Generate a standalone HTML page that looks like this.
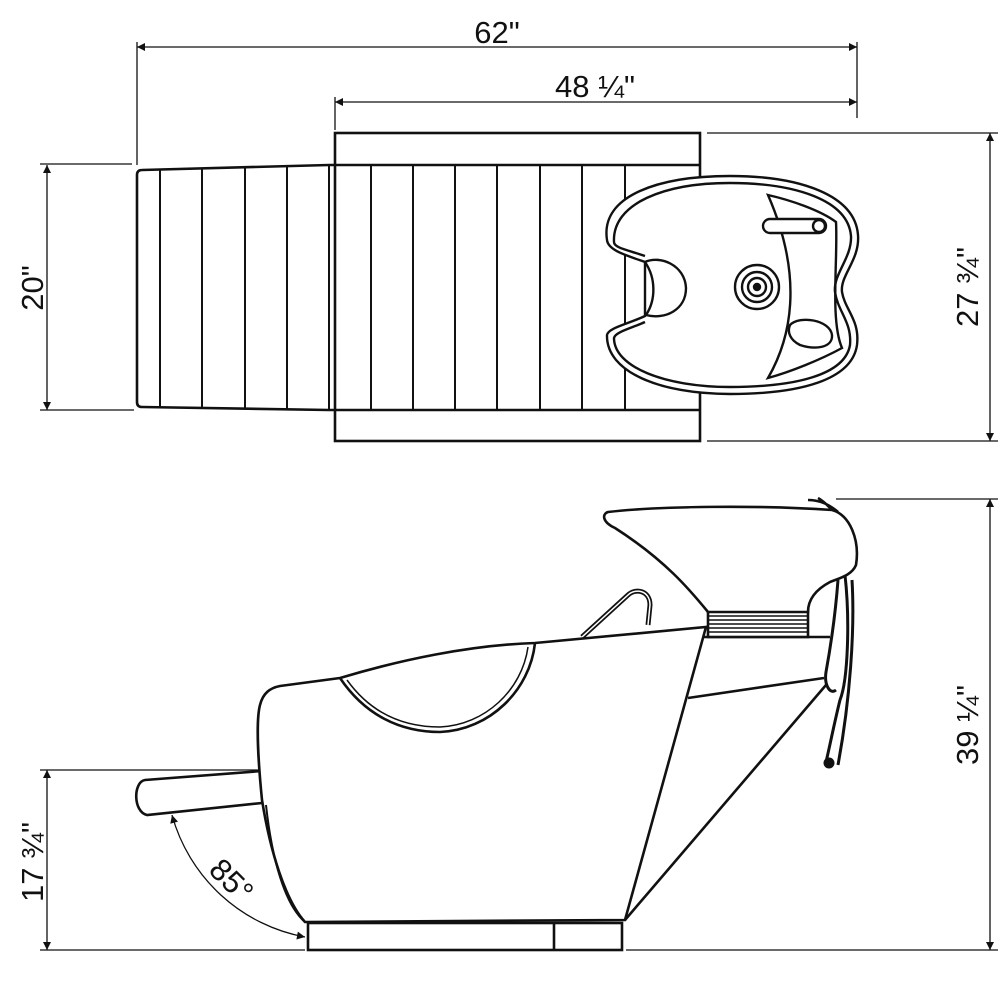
<!DOCTYPE html>
<html><head><meta charset="utf-8"><style>
html,body{margin:0;padding:0;background:#fff;}
svg{display:block;}
text{font-family:"Liberation Sans",sans-serif;fill:#111;}
</style></head><body>
<svg width="1000" height="1000" viewBox="0 0 1000 1000" xmlns="http://www.w3.org/2000/svg">
<defs>
<marker id="ar" viewBox="0 0 10 10" refX="10" refY="5" markerWidth="14" markerHeight="8" markerUnits="userSpaceOnUse" orient="auto-start-reverse">
<path d="M0,0 L10,5 L0,10 z" fill="#111"/></marker>
</defs>
<g stroke="#111" fill="none">
<g stroke-width="1.3">
<line x1="137" y1="47" x2="857" y2="47" marker-start="url(#ar)" marker-end="url(#ar)"/>
<line x1="137" y1="42" x2="137" y2="165"/>
<line x1="857" y1="42" x2="857" y2="118"/>
<line x1="335" y1="102" x2="857" y2="102" marker-start="url(#ar)" marker-end="url(#ar)"/>
<line x1="335" y1="97" x2="335" y2="130"/>
<line x1="47" y1="165" x2="47" y2="410" marker-start="url(#ar)" marker-end="url(#ar)"/>
<line x1="40" y1="164" x2="132" y2="164"/>
<line x1="40" y1="410" x2="134" y2="410"/>
<line x1="990" y1="133" x2="990" y2="441" marker-start="url(#ar)" marker-end="url(#ar)"/>
<line x1="707" y1="133" x2="998" y2="133"/>
<line x1="707" y1="441" x2="998" y2="441"/>
<line x1="990" y1="499" x2="990" y2="950" marker-start="url(#ar)" marker-end="url(#ar)"/>
<line x1="836" y1="499" x2="998" y2="499"/>
<line x1="47" y1="770" x2="47" y2="950" marker-start="url(#ar)" marker-end="url(#ar)"/>
<line x1="40" y1="770" x2="258" y2="770"/>
<line x1="40" y1="950" x2="305" y2="950"/>
<line x1="626" y1="950" x2="998" y2="950"/>
<path d="M172,815 A170,170 0 0 0 305,937" marker-start="url(#ar)" marker-end="url(#ar)"/>
</g>
<g stroke-width="2.6">
<rect x="335" y="133" width="365" height="308"/>
<line x1="329" y1="165" x2="700" y2="165"/>
<line x1="329" y1="410" x2="700" y2="410"/>
<path d="M329,165 L142,170 Q137,170 137,175 L137,402 Q137,407 142,407 L329,410"/>
<g stroke-width="2">
<line x1="160" y1="170" x2="160" y2="407"/>
<line x1="202" y1="169" x2="202" y2="408"/>
<line x1="245" y1="168" x2="245" y2="408"/>
<line x1="287" y1="166" x2="287" y2="409"/>
<line x1="329" y1="165" x2="329" y2="410"/>
<line x1="371" y1="165" x2="371" y2="410"/>
<line x1="413" y1="165" x2="413" y2="410"/>
<line x1="455" y1="165" x2="455" y2="410"/>
<line x1="497" y1="165" x2="497" y2="410"/>
<line x1="540" y1="165" x2="540" y2="410"/>
<line x1="582" y1="165" x2="582" y2="410"/>
<line x1="625" y1="165" x2="625" y2="410"/>
</g>
</g>
<g stroke-width="2.4" fill="#fff">
<path d="M607,240 C600,195 660,176 730,176 C800,176 855,195 858,235 C860,260 840,275 842,292 C845,310 860,320 857,345 C852,380 800,394 730,394 C660,394 606,372 607,335 C608,328 628,324 645,316 L645,262 C625,255 608,250 607,240 Z"/>
<path d="M614,242 C612,203 665,183 730,183 C795,183 848,200 851,236 C852,258 833,274 835,292 C838,312 852,322 850,345 C845,375 795,387 730,387 C665,387 614,367 614,338 C615,332 632,328 645,322 M645,256 C628,250 614,248 614,242" fill="none"/>
<path d="M645,262 C660,255 685,265 686,288 C686,310 665,320 646,315 C656,300 656,278 645,262 Z"/>
<path d="M768,195 C790,200 820,210 836,222 C838,260 830,320 842,348 C820,360 790,372 768,378 C790,340 805,280 768,195 Z" fill="none"/>
<rect x="763" y="219" width="63" height="14" rx="7"/>
<circle cx="819" cy="226" r="6"/>
<path d="M790,325 C800,315 830,320 832,335 C833,348 815,350 800,345 C790,340 787,332 790,325 Z"/>
<circle cx="757" cy="287" r="22"/>
<circle cx="757" cy="287" r="15"/>
<circle cx="757" cy="287" r="9"/>
<circle cx="757" cy="287" r="3" fill="#111"/>
</g>
<g stroke-width="2.6" fill="#fff">
<path d="M700,637 L830,637" fill="none"/>
<path d="M688,698 L824,678" fill="none"/>
<path d="M826,685 L625,920" fill="none"/>
<rect x="708" y="611" width="100" height="26" fill="#fff"/>
<g stroke-width="1.5"><line x1="708" y1="616" x2="808" y2="616"/><line x1="708" y1="620" x2="808" y2="620"/><line x1="708" y1="624" x2="808" y2="624"/><line x1="708" y1="628" x2="808" y2="628"/><line x1="708" y1="632" x2="808" y2="632"/></g>
<path d="M608,512 C660,506 760,505 832,510 C850,515 860,540 856,565 C852,575 840,578 830,582 C815,590 808,600 808,612 L708,612 C690,590 665,560 615,528 C602,522 602,514 608,512 Z"/>
<path d="M808,500 C820,500 830,505 838,512 M818,498 C825,502 828,506 832,510" fill="none"/>
<g fill="none" stroke-width="3">
<path d="M845,575 C850,620 848,680 840,700 C835,720 830,745 826,762"/>
<path d="M838,580 C835,620 830,650 826,672 C824,685 830,695 836,690"/>
<path d="M852,580 C855,630 850,700 838,765"/>
<circle cx="829" cy="763" r="4" fill="#111"/>
</g>
<path d="M582,637 L628,595 C635,588 650,590 650,605 L648,625" fill="none" stroke-width="5"/>
<path d="M582,637 L628,595 C635,588 650,590 650,605 L648,625" fill="none" stroke="#fff" stroke-width="1.5"/>
<path d="M262,771 L145,780 C133,782 133,812 147,815 L262,803"/>
<path d="M280,686 L340,678 C400,660 470,645 535,643 L706,627 L625,920 L305,922 C285,900 270,850 262,800 C258,760 256,720 260,705 C263,693 270,688 280,686 Z"/>
<path d="M266,805 C272,860 285,905 305,922" fill="none" stroke-width="2"/>
<path d="M340,678 C365,715 400,732 440,732 C490,730 530,690 535,643" fill="none"/>
<path d="M347,680 C370,712 402,727 440,727 C485,725 522,690 528,647" fill="none" stroke-width="1.5"/>
<rect x="308" y="923" width="314" height="27"/>
<line x1="554" y1="923" x2="554" y2="950"/>
</g>
</g>
<text x="497" y="43" font-size="31" text-anchor="middle">62"</text>
<text x="595" y="97" font-size="31" text-anchor="middle">48 ¼"</text>
<text transform="translate(43,288) rotate(-90)" font-size="31" text-anchor="middle">20"</text>
<text transform="translate(978,287) rotate(-90)" font-size="31" text-anchor="middle">27 ¾"</text>
<text transform="translate(978,725) rotate(-90)" font-size="31" text-anchor="middle">39 ¼"</text>
<text transform="translate(43,862) rotate(-90)" font-size="31" text-anchor="middle">17 ¾"</text>
<text transform="translate(224,888) rotate(45)" font-size="31" text-anchor="middle">85°</text>
</svg>
</body></html>
